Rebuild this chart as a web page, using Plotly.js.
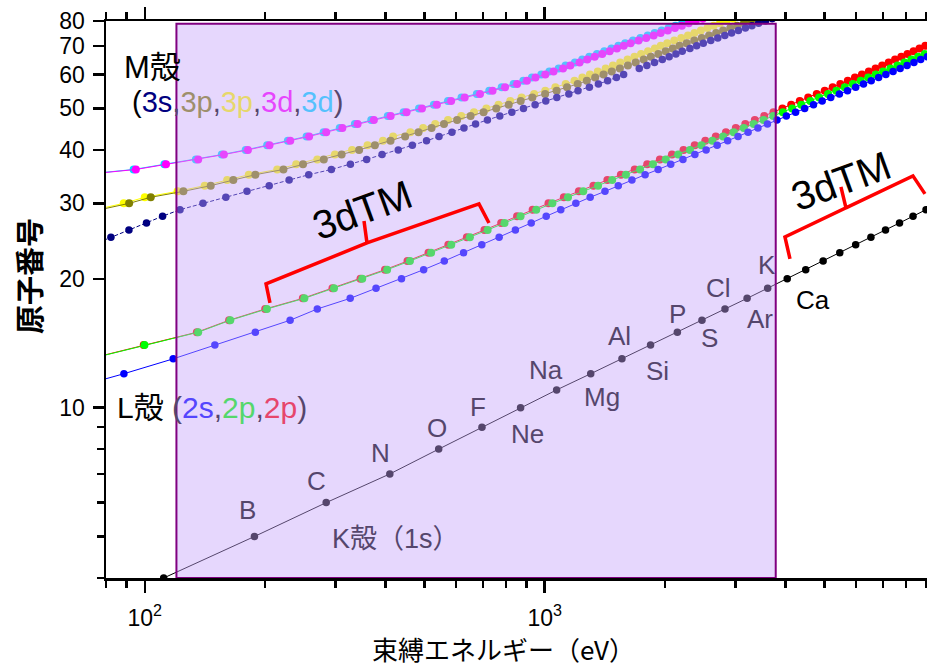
<!DOCTYPE html>
<html>
<head>
<meta charset="utf-8">
<script src="https://cdn.plot.ly/plotly-3.0.1.min.js"></script>
<style>html,body{margin:0;padding:0;background:#fff;}#chart{width:927px;height:666px;}</style>
</head>
<body>
<div id="chart"></div>
<script>
// ---------------- data: atomic number (Z) vs binding energy (eV) ----------------
// K shell (1s)
const Z_K = [4,5,6,7,8,9,10,11,12,13,14,15,16,17,18,19,20,21,22,23,24,25,26,27,28,29,30];
const SYM_K = ['Be','B','C','N','O','F','Ne','Na','Mg','Al','Si','P','S','Cl','Ar','K','Ca','Sc','Ti','V','Cr','Mn','Fe','Co','Ni','Cu','Zn'];
const E_1s = [111.5,188,284.2,409.9,543.1,696.7,870.2,1070.8,1303.0,1559.6,1839,2145.5,2472,2822.4,3205.9,3608.4,4038.5,4492,4966,5465,5989,6539,7112,7709,8333,8979,9659];

// L shell (2s, 2p1/2, 2p3/2)
const Z_L = [11,12,13,14,15,16,17,18,19,20,21,22,23,24,25,26,27,28,29,30,31,32,33,34,35,36,37,38,39,40,41,42,43,44,45,46,47,48,49,50,51,52,53,54,55,56,57,58,59,60,61,62,63,64,65,66,67,68,69,70,71,72];
const E_2s = [63.5,88.7,117.8,149.7,189,230.9,270,326.3,378.6,438.4,498.0,560.9,626.7,696.0,769.1,844.6,925.1,1008.6,1096.7,1196.2,1299.0,1414.6,1527.0,1652.0,1782,1921,2065,2216,2373,2532,2698,2866,3043,3224,3412,3604,3806,4018,4238,4465,4698,4939,5188,5453,5714,5989,6266,6549,6835,7126,7428,7737,8052,8376,8708,9046,9394,9751,10116,10486,10870,11271];
const E_2p1 = [30.65,49.78,72.95,99.82,136,163.6,202,250.6,297.3,349.7,403.6,460.2,519.8,583.8,649.9,719.9,793.2,870.0,952.3,1044.9,1143.2,1248.1,1359.1,1474.3,1596,1730.9,1864,2007,2156,2307,2465,2625,2793,2967,3146,3330,3524,3727,3938,4156,4380,4612,4852,5107,5359,5624,5891,6164,6440,6722,7013,7312,7617,7930,8252,8581,8918,9264,9617,9978,10349,10739];
const E_2p3 = [30.81,49.50,72.55,99.42,135,162.5,200,248.4,294.6,346.2,398.7,453.8,512.1,574.1,638.7,706.8,778.1,852.7,932.7,1021.8,1116.4,1217.0,1323.6,1433.9,1550,1678.4,1804,1940,2080,2223,2371,2520,2677,2838,3004,3173,3351,3538,3730,3929,4132,4341,4557,4786,5012,5247,5483,5723,5964,6208,6459,6716,6977,7243,7514,7790,8071,8358,8648,8944,9244,9561];

// M shell (3s, 3p1/2, 3p3/2, 3d3/2, 3d5/2)
const Z_M = [19,20,21,22,23,24,25,26,27,28,29,30,31,32,33,34,35,36,37,38,39,40,41,42,43,44,45,46,47,48,49,50,51,52,53,54,55,56,57,58,59,60,61,62,63,64,65,66,67,68,69,70,71,72,73,74,75,76,77,78,79,80,81,82,83];
const E_3s = [34.8,44.3,51.1,58.7,66.3,74.1,82.3,91.3,101.0,110.8,122.5,139.8,159.5,180.1,204.7,229.6,257,292.8,326.7,358.7,392.0,430.3,466.6,506.3,544,586.1,628.1,671.6,719.0,772.0,827.2,884.7,946,1006,1072,1148.7,1211,1293,1362,1436,1511,1575,null,1723,1800,1881,1968,2047,2128,2207,2307,2398,2491,2601,2708,2820,2932,3049,3174,3296,3425,3562,3704,3851,3999];
const E_3p1 = [18.3,25.4,28.3,32.6,37.2,42.2,47.2,52.7,58.9,68.0,77.3,91.4,103.5,124.9,146.2,166.5,189,222.2,248.7,280.3,310.6,343.5,376.1,411.6,447.6,483.5,521.3,559.9,603.8,652.6,703.2,756.5,812.7,870.8,931,1002.1,1071,1137,1209,1274,1337,1403,1471,1541,1614,1688,1768,1842,1923,2006,2090,2173,2264,2365,2469,2575,2682,2792,2909,3027,3148,3279,3416,3554,3696];
const E_3p3 = [18.3,25.4,28.3,32.6,37.2,42.2,47.2,52.7,59.9,66.2,75.1,88.6,100.0,120.8,141.2,160.7,182,214.4,239.1,270.0,298.8,329.8,360.6,394.0,417.7,461.4,496.5,532.3,573.0,618.4,665.3,714.6,766.4,820.0,875,940.6,1003,1063,1128,1187,1242,1297,1357,1420,1481,1544,1611,1676,1741,1812,1885,1950,2024,2108,2194,2281,2367,2457,2551,2645,2743,2847,2957,3066,3177];
const E_3d3 = [null,null,null,null,null,null,null,null,null,null,null,10.2,18.7,29.8,41.7,55.5,70,95.0,113.0,136.0,157.7,181.1,205.0,231.1,257.6,284.2,311.9,340.5,374.0,411.9,451.4,493.2,537.5,583.4,630.8,689.0,740.5,795.7,853,902.4,948.3,1003.3,1052,1110.9,1158.6,1221.9,1276.9,1333,1392,1453,1515,1576,1639,1716,1793,1872,1949,2031,2116,2202,2291,2385,2485,2586,2688];
const E_3d5 = [null,null,null,null,null,null,null,null,null,null,null,10.1,18.7,29.2,41.7,54.6,69,93.8,112,134.2,155.8,178.8,202.3,227.9,253.9,280.0,307.2,335.2,368.3,405.2,443.9,484.9,528.2,573.0,619.3,676.4,726.6,780.5,836,883.8,928.8,980.4,1027,1083.4,1127.5,1189.6,1241.1,1292.6,1351,1409,1468,1528,1589,1662,1735,1809,1883,1960,2040,2122,2206,2295,2389,2484,2580];

// axis ticks
const X_TICKS = [100, 1000];
const X_TICKTEXT = ['10<sup>2</sup>', '10<sup>3</sup>'];
const X_MINOR = [80,90,200,300,400,500,600,700,800,900,2000,3000,4000,5000,6000,7000,8000,9000];
const Y_TICKS = [10,20,30,40,50,60,70,80];
const Y_TICKTEXT = ['10','20','30','40','50','60','70','80'];
const Y_MINOR = [4,5,6,7,8,9];
const X_RANGE = [80, 9030];
const Y_RANGE = [4, 80];

// ---------------- styling ----------------
const C = {
  k: '#000000', s2: '#0000ff', p21: '#00ff00', p23: '#ff0000',
  s3: '#000080', p31: '#808000', p33: '#ffff00', d33: '#ff00ff', d35: '#00d8ff'
};
const OVERLAY_RGB = [198, 163, 250];
const OVERLAY_ALPHA = 0.43;
function blend(hex) {
  const v = [1, 3, 5].map(i => parseInt(hex.slice(i, i + 2), 16));
  const r = v.map((c, i) => Math.round(OVERLAY_ALPHA * OVERLAY_RGB[i] + (1 - OVERLAY_ALPHA) * c));
  return 'rgb(' + r.join(',') + ')';
}
const LATIN = 'Liberation Sans, Arial, Noto Sans CJK JP, sans-serif';
const CJK = 'Liberation Sans, Noto Sans CJK JP, sans-serif';

function series(x, y, color, size, dash) {
  return {
    type: 'scatter', mode: 'lines+markers', x: x, y: y,
    line: {color: color, width: 1, dash: dash || 'solid'},
    marker: {color: color, size: size},
    connectgaps: false, hoverinfo: 'skip', cliponaxis: true
  };
}

const traces = [
  series(E_1s, Z_K, C.k, 7.5),
  series(E_2p3, Z_L, C.p23, 8),
  series(E_2p1, Z_L, C.p21, 8),
  series(E_2s, Z_L, C.s2, 7.5),
  series(E_3d5, Z_M, C.d35, 8),
  series(E_3d3, Z_M, C.d33, 8),
  series(E_3p3, Z_M, C.p33, 8),
  series(E_3p1, Z_M, C.p31, 8),
  series(E_3s, Z_M, C.s3, 7.5, '4px,2px')
];

// element label offsets (px) relative to each K-shell point
const LABEL_OFFSETS = {
  B: [-7, 25], C: [-10, 20], N: [-9, 19], O: [-2, 19.5], F: [-4, 18],
  Ne: [7, -28], Na: [-11, 18], Mg: [11, -25], Al: [-2, 21], Si: [7, -27.5],
  P: [0, 16], S: [8, -20], Cl: [-6, 19], Ar: [13, -23], K: [-1, 21], Ca: [26, -23]
};
const RECT = {x0: 120, x1: 3780, y0: 4, y1: 78.8};

const annotations = [];
SYM_K.forEach((s, i) => {
  const off = LABEL_OFFSETS[s];
  if (!off) return;
  const inside = E_1s[i] > RECT.x0 && E_1s[i] < RECT.x1;
  annotations.push({
    x: Math.log10(E_1s[i]), y: Math.log10(Z_K[i]), xref: 'x', yref: 'y',
    text: s, showarrow: false, xshift: off[0], yshift: off[1] + 2,
    font: {family: LATIN, size: 26, color: inside ? blend('#000000') : '#000000'}
  });
});

function span(t, c) { return '<span style="color:' + c + '">' + t + '</span>'; }
const bk = blend('#000000');

annotations.push(
  {x: Math.log10(87.7), y: Math.log10(62.2), xref: 'x', yref: 'y', xanchor: 'left', yanchor: 'middle',
   text: 'M殻', showarrow: false, font: {family: CJK, size: 31, color: '#000'}},
  {x: Math.log10(92.0), y: Math.log10(51.8), xref: 'x', yref: 'y', xanchor: 'left', yanchor: 'middle',
   text: span('(', '#000') + span('3s', C.s3) + span(',', bk) + span('3p', blend(C.p31)) + span(',', bk) +
         span('3p', blend(C.p33)) + span(',', bk) + span('3d', blend(C.d33)) + span(',', bk) +
         span('3d', blend(C.d35)) + span(')', bk),
   showarrow: false, font: {family: CJK, size: 29, color: '#000'}},
  {x: Math.log10(84.3), y: Math.log10(10), xref: 'x', yref: 'y', xanchor: 'left', yanchor: 'middle',
   text: span('L殻 ', '#000') + span('(', bk) + span('2s', blend(C.s2)) + span(',', bk) +
         span('2p', blend(C.p21)) + span(',', bk) + span('2p', blend(C.p23)) + span(')', bk),
   showarrow: false, font: {family: CJK, size: 30, color: '#000'}},
  {x: Math.log10(290.5), y: Math.log10(4.93), xref: 'x', yref: 'y', xanchor: 'left', yanchor: 'middle',
   text: 'K殻（1s）', showarrow: false, font: {family: CJK, size: 27, color: bk}},
  {x: Math.log10(349), y: Math.log10(29.0), xref: 'x', yref: 'y', text: '3dTM', showarrow: false,
   textangle: -20, font: {family: LATIN, size: 40, color: '#000'}},
  {x: Math.log10(5500), y: Math.log10(33.8), xref: 'x', yref: 'y', text: '3dTM', showarrow: false,
   textangle: -20, font: {family: LATIN, size: 40, color: '#000'}},
  {x: -0.095, y: 0.542, xref: 'paper', yref: 'paper', xanchor: 'center', yanchor: 'middle',
   text: '原子番号', showarrow: false, textangle: -90,
   font: {family: 'Noto Sans CJK JP, sans-serif', size: 29, color: '#000', weight: 700}},
  {x: 0.4836, y: -0.1257, xref: 'paper', yref: 'paper', xanchor: 'center', yanchor: 'middle',
   text: '束縛エネルギー（eV）', showarrow: false,
   font: {family: 'Noto Sans CJK JP, sans-serif', size: 26, color: '#000'}}
);

const shapes = [
  {type: 'rect', xref: 'x', yref: 'y', x0: RECT.x0, x1: RECT.x1, y0: RECT.y0, y1: RECT.y1, layer: 'above',
   fillcolor: 'rgba(' + OVERLAY_RGB.join(',') + ',' + OVERLAY_ALPHA + ')', line: {color: '#800080', width: 2}},
  {type: 'path', xref: 'x', yref: 'y', layer: 'above', line: {color: '#ff0000', width: 3.5},
   path: 'M205.6,17.57 L201,19.45 L359.4,24.25 L353.3,27.3 M359.4,24.25 L684.8,29.92 L725.4,27.0'},
  {type: 'path', xref: 'x', yref: 'y', layer: 'above', line: {color: '#ff0000', width: 3.5},
   path: 'M4103,22.26 L3986,25.05 L5663,29.28 L5502,32.79 M5663,29.28 L8328,34.78 L8925,31.57'}
];

const axisCommon = {
  type: 'log', tickmode: 'array', ticks: 'outside', tickwidth: 2.5, tickcolor: '#000',
  showline: true, linewidth: 2.5, linecolor: '#000', showgrid: false, zeroline: false,
  tickfont: {family: LATIN, size: 23, color: '#000'}
};

const layout = {
  width: 927, height: 666,
  margin: {l: 106, r: 0, t: 21, b: 88, pad: 0},
  paper_bgcolor: '#ffffff', plot_bgcolor: '#ffffff',
  showlegend: false,
  font: {family: LATIN, color: '#000'},
  xaxis: Object.assign({}, axisCommon, {
    range: [Math.log10(X_RANGE[0]), Math.log10(X_RANGE[1])],
    tickvals: X_TICKS, ticktext: X_TICKTEXT, ticklen: 12, mirror: 'ticks', ticklabelstandoff: 6,
    minor: {tickmode: 'array', tickvals: X_MINOR, ticks: 'outside', ticklen: 7, tickwidth: 2.5, tickcolor: '#000', showgrid: false}
  }),
  yaxis: Object.assign({}, axisCommon, {
    range: [Math.log10(Y_RANGE[0]), Math.log10(Y_RANGE[1])],
    tickvals: Y_TICKS, ticktext: Y_TICKTEXT, ticklen: 11, mirror: false, ticklabelstandoff: 3,
    minor: {tickmode: 'array', tickvals: Y_MINOR, ticks: 'outside', ticklen: 7, tickwidth: 2.5, tickcolor: '#000', showgrid: false}
  }),
  shapes: shapes,
  annotations: annotations
};

Plotly.newPlot('chart', traces, layout, {staticPlot: true, displayModeBar: false});
</script>
</body>
</html>
